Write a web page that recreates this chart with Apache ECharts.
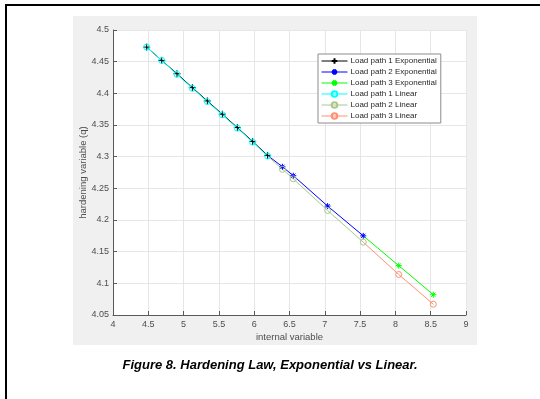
<!DOCTYPE html>
<html><head><meta charset="utf-8">
<script src="https://cdn.jsdelivr.net/npm/echarts@6/dist/echarts.min.js"></script>
<style>html,body{margin:0;padding:0;background:#fff}#c{width:540px;height:399px}</style>
</head><body><div id="c"></div>
<script>
// Data
const xPath1 = [4.477, 4.690, 4.906, 5.124, 5.336, 5.549, 5.761, 5.978, 6.190];
const yPath1Exp = [4.473, 4.452, 4.431, 4.409, 4.388, 4.367, 4.346, 4.324, 4.302];
const yPath1Lin = [4.473, 4.452, 4.430, 4.408, 4.387, 4.366, 4.345, 4.323, 4.301];
const xPath2 = [6.190, 6.400, 6.554, 7.040, 7.545];
const yPath2Exp = [4.302, 4.284, 4.270, 4.222, 4.175];
const yPath2Lin = [4.301, 4.280, 4.265, 4.215, 4.165];
const xPath3 = [7.545, 8.047, 8.537];
const yPath3Exp = [4.175, 4.128, 4.082];
const yPath3Lin = [4.165, 4.114, 4.067];
const xTicks = [4, 4.5, 5, 5.5, 6, 6.5, 7, 7.5, 8, 8.5, 9];
const yTicks = [4.05, 4.1, 4.15, 4.2, 4.25, 4.3, 4.35, 4.4, 4.45, 4.5];
const names = ['Load path 1 Exponential','Load path 2 Exponential','Load path 3 Exponential','Load path 1 Linear','Load path 2 Linear','Load path 3 Linear'];

const PLUS = 'path://M0,5L10,5M5,0L5,10';
const STAR = 'path://M5,0L5,10M0,5L10,5M1.5,1.5L8.5,8.5M8.5,1.5L1.5,8.5';

function pts(xs, ys, hideFirst) {
  return xs.map((x, i) => (hideFirst && i === 0) ? {value: [x, ys[i]], symbol: 'none'} : [x, ys[i]]);
}
function mk(name, color, xs, ys, hideFirst, symbol, size, hollow) {
  return {
    name, type: 'line', data: pts(xs, ys, hideFirst), symbol, symbolSize: size,
    showAllSymbol: true, animation: false,
    lineStyle: {color, width: 1},
    itemStyle: {color: hollow ? 'rgba(255,255,255,0)' : color, borderColor: color, borderWidth: 1},
    emphasis: {disabled: true}
  };
}

const chart = echarts.init(document.getElementById('c'), null, {renderer: 'canvas'});
chart.setOption({
  backgroundColor: '#fff',
  textStyle: {fontFamily: 'Liberation Sans, Arial, sans-serif'},
  graphic: [
    {type: 'rect', shape: {x: 73, y: 16, width: 404, height: 329}, style: {fill: '#f0f0f0'}, z: -10},
    {type: 'rect', shape: {x: 6, y: 5, width: 700, height: 600}, style: {fill: 'none', stroke: '#000', lineWidth: 2}, z: -9},
    {type: 'text', left: 'center', top: 359, style: {text: 'Figure 8. Hardening Law, Exponential vs Linear.', font: 'italic bold 13px Liberation Sans, Arial, sans-serif', fill: '#000'}}
  ],
  grid: {left: 113, right: 74, top: 30, bottom: 84, show: true, backgroundColor: '#fff', borderWidth: 0},
  xAxis: {
    type: 'value', min: xTicks[0], max: xTicks[xTicks.length - 1], interval: 0.5,
    name: 'internal variable', nameLocation: 'middle', nameGap: 17, nameMoveOverlap: false,
    nameTextStyle: {color: '#4d4d4d', fontSize: 9.5},
    axisLine: {show: true, lineStyle: {color: '#5a5a5a', width: 1}},
    axisTick: {show: true, inside: true, length: 4, lineStyle: {color: '#5a5a5a'}},
    axisLabel: {color: '#4d4d4d', fontSize: 9, margin: 5, formatter: v => String(+v.toFixed(2))},
    splitLine: {show: true, lineStyle: {color: '#e6e6e6', width: 1}}
  },
  yAxis: {
    type: 'value', min: yTicks[0], max: yTicks[yTicks.length - 1], interval: 0.05,
    name: 'hardening variable (q)', nameLocation: 'middle', nameGap: 25, nameMoveOverlap: false,
    nameTextStyle: {color: '#4d4d4d', fontSize: 9.5},
    axisLine: {show: true, lineStyle: {color: '#5a5a5a', width: 1}},
    axisTick: {show: true, inside: true, length: 4, lineStyle: {color: '#5a5a5a'}},
    axisLabel: {color: '#4d4d4d', fontSize: 9, margin: 4, formatter: v => String(+v.toFixed(2))},
    splitLine: {show: true, lineStyle: {color: '#e6e6e6', width: 1}}
  },
  legend: {
    orient: 'vertical', left: 318, top: 54, data: names,
    backgroundColor: '#fff', borderColor: '#8c8c8c', borderWidth: 1, borderRadius: 0,
    padding: [3, 4, 3, 3], itemGap: 3, itemWidth: 26, itemHeight: 7,
    lineStyle: {width: 1},
    textStyle: {fontSize: 8, color: '#262626', padding: [0, 0, 0, -2]},
    selectedMode: false
  },
  series: [
    mk(names[0], '#000000', xPath1, yPath1Exp, false, PLUS, 7, false),
    mk(names[1], '#0000ff', xPath2, yPath2Exp, true, STAR, 6, false),
    mk(names[2], '#00ff00', xPath3, yPath3Exp, true, STAR, 6, false),
    mk(names[3], '#00ffff', xPath1, yPath1Lin, false, 'circle', 6, true),
    mk(names[4], '#a8c88c', xPath2, yPath2Lin, true, 'circle', 6, true),
    mk(names[5], '#ff9070', xPath3, yPath3Lin, true, 'circle', 6, true)
  ]
});
</script></body></html>
